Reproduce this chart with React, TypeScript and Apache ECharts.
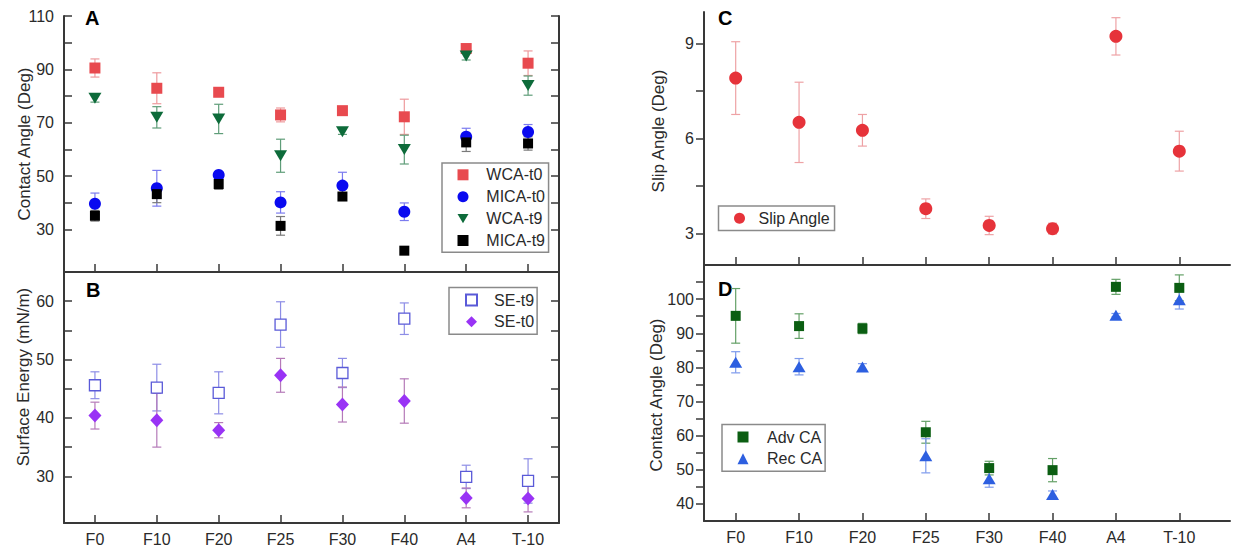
import React, { useEffect, useRef } from "react";
import * as echarts from "echarts";

// ---------------- data ----------------
const categories = ["F0", "F10", "F20", "F25", "F30", "F40", "A4", "T-10"];

// Panel A – contact angles (Deg)
const wcaT0 = [90.5, 82.9, 81.4, 72.9, 74.5, 72.2, 97.8, 92.3];
const wcaT0Err = [3.4, 5.8, 1.5, 2.6, 1.5, 6.6, 1.0, 4.6];
const micaT0 = [39.6, 45.4, 50.4, 40.1, 46.4, 36.6, 64.7, 66.5];
const micaT0Err = [4.0, 6.7, 1.2, 4.0, 5.0, 3.3, 3.2, 2.8];
const wcaT9 = [79.2, 72.0, 71.4, 57.6, 66.6, 59.9, 95.0, 83.9];
const wcaT9Err = [1.5, 4.0, 5.5, 6.2, 1.0, 5.4, 1.5, 3.6];
const micaT9 = [35.1, 43.2, 47.0, 31.3, 42.3, 22.0, 62.6, 62.2];
const micaT9Err = [2.0, 3.2, 2.0, 3.5, 1.0, 0, 3.4, 2.5];

// Panel B – surface energy (mN/m)
const seT9 = [45.6, 45.2, 44.3, 56.0, 47.7, 57.0, 29.9, 29.2];
const seT9Err = [2.3, 4.0, 3.6, 3.9, 2.5, 2.7, 2.0, 3.8];
const seT0 = [40.4, 39.6, 37.9, 47.3, 42.3, 42.9, 26.3, 26.2];
const seT0Err = [2.3, 4.6, 1.3, 2.9, 3.0, 3.8, 1.7, 2.3];

// Panel C – slip angle (Deg)
const slipAngle = [7.91, 6.51, 6.26, 3.78, 3.25, 3.15, 9.23, 5.6];
const slipAngleErr = [1.15, 1.27, 0.5, 0.31, 0.29, 0.17, 0.59, 0.63];

// Panel D – advancing / receding contact angles (Deg)
const advCA = [95.1, 92.1, 91.4, 61.0, 50.5, 49.9, 103.6, 103.3];
const advCAErr = [8.0, 3.6, 1.5, 3.2, 2.0, 3.4, 2.2, 3.8];
const recCA = [81.5, 80.2, 80.1, 54.1, 47.4, 42.8, 95.3, 99.8];
const recCAErr = [3.1, 2.4, 1.0, 5.0, 2.5, 1.0, 0.5, 2.7];

// tick / label values
const aTicks = [30, 40, 50, 60, 70, 80, 90, 100, 110];
const aLabels = [30, 50, 70, 90, 110];
const bTicks = [30, 35, 40, 45, 50, 55, 60];
const bLabels = [30, 40, 50, 60];
const cTicks = [3, 4.5, 6, 7.5, 9];
const cLabels = [3, 6, 9];
const dTicks = [40, 45, 50, 55, 60, 65, 70, 75, 80, 85, 90, 95, 100, 105];
const dLabels = [40, 50, 60, 70, 80, 90, 100];

// ---------------- styling ----------------
const FONT = "'Liberation Sans', Arial, Helvetica, sans-serif";
const AX = "#383838";
const TXT = "#2a2a2a";
const xPos = categories.map((_, i) => i + 1);
const DOWN_TRI = "path://M0,0 L12,0 L6,10 Z";

function pts(vals: number[]) {
  return vals.map((v, i) => [xPos[i], v]);
}
function errPts(vals: number[], errs: number[]) {
  return vals.map((v, i) => [xPos[i], v - errs[i], v + errs[i]]);
}

function errSeries(name: string, axis: number, vals: number[], errs: number[], color: string) {
  return {
    type: "custom",
    name: name + "-err",
    xAxisIndex: axis,
    yAxisIndex: axis,
    z: 1,
    silent: true,
    data: errPts(vals, errs),
    renderItem: (params: any, api: any) => {
      const x = api.value(0);
      const lo = api.value(1);
      const hi = api.value(2);
      if (hi - lo <= 0) return null;
      const p1 = api.coord([x, hi]);
      const p2 = api.coord([x, lo]);
      const w = 4.5;
      const st = { stroke: color, lineWidth: 1.2 };
      return {
        type: "group",
        children: [
          { type: "line", shape: { x1: p1[0], y1: p1[1], x2: p2[0], y2: p2[1] }, style: st },
          { type: "line", shape: { x1: p1[0] - w, y1: p1[1], x2: p1[0] + w, y2: p1[1] }, style: st },
          { type: "line", shape: { x1: p2[0] - w, y1: p2[1], x2: p2[0] + w, y2: p2[1] }, style: st },
        ],
      };
    },
  };
}

function scatter(name: string, axis: number, vals: number[], symbol: string, size: any, itemStyle: any) {
  return {
    type: "scatter",
    name,
    xAxisIndex: axis,
    yAxisIndex: axis,
    z: 3,
    symbol,
    symbolSize: size,
    itemStyle: { opacity: 1, ...itemStyle },
    data: pts(vals),
  };
}

function xAxis(gridIndex: number, max: number, showLabels: boolean) {
  return {
    type: "value",
    gridIndex,
    min: 0.5,
    max,
    position: "bottom",
    axisLine: { show: true, onZero: false, lineStyle: { color: AX, width: 2 } },
    axisTick: { show: true, inside: true, length: 8, customValues: xPos, lineStyle: { color: AX, width: 1.5 } },
    axisLabel: {
      show: showLabels,
      customValues: xPos,
      formatter: (v: number) => categories[Math.round(v) - 1] ?? "",
      margin: 8,
      fontSize: 16,
      color: TXT,
      fontFamily: FONT,
    },
    splitLine: { show: false },
  };
}

function yAxis(
  gridIndex: number,
  min: number,
  max: number,
  ticks: number[],
  labels: number[],
  inside: boolean,
  position: string,
  showLabels: boolean
) {
  return {
    type: "value",
    gridIndex,
    min,
    max,
    position,
    axisLine: { show: true, onZero: false, lineStyle: { color: AX, width: 2 } },
    axisTick: { show: true, inside, length: 8, customValues: ticks, lineStyle: { color: AX, width: 1.5 } },
    axisLabel: {
      show: showLabels,
      customValues: labels,
      margin: 10,
      fontSize: 16,
      color: TXT,
      fontFamily: FONT,
    },
    splitLine: { show: false },
  };
}

function legend(
  left: number,
  top: number,
  padding: number[],
  textPad: number,
  itemGap: number,
  data: string[]
) {
  return {
    orient: "vertical",
    left,
    top,
    padding,
    itemWidth: 11,
    itemHeight: 11,
    itemGap,
    borderColor: "#8a8a8a",
    borderWidth: 1.5,
    borderRadius: 0,
    backgroundColor: "#fff",
    selectedMode: false,
    itemStyle: { opacity: 1 },
    textStyle: { fontSize: 16, color: TXT, fontFamily: FONT, padding: [0, 0, 0, textPad] },
    data,
  };
}

function vText(text: string, x: number, y: number) {
  return {
    type: "text",
    x,
    y,
    rotation: Math.PI / 2,
    style: { text, font: `17px ${FONT}`, fill: TXT, align: "center", verticalAlign: "middle" },
  };
}
function panelLabel(text: string, x: number, y: number) {
  return {
    type: "text",
    x,
    y,
    style: { text, font: `bold 20px ${FONT}`, fill: "#000", align: "left", verticalAlign: "middle" },
  };
}

export default function App() {
  const ref = useRef<HTMLDivElement>(null);
  useEffect(() => {
    if (!ref.current) return;
    const chart = echarts.init(ref.current, null, { renderer: "svg" });
    const option: any = {
      animation: false,
      backgroundColor: "#fff",
      grid: [
        { left: 64, top: 16, width: 495, height: 256, outerBoundsMode: "none" },
        { left: 64, top: 272, width: 495, height: 251, outerBoundsMode: "none" },
        { left: 704, top: 12, width: 526, height: 253, outerBoundsMode: "none" },
        { left: 704, top: 265, width: 526, height: 256, outerBoundsMode: "none" },
      ],
      xAxis: [xAxis(0, 8.5, false), xAxis(1, 8.5, true), xAxis(2, 8.8, false), xAxis(3, 8.8, true)],
      yAxis: [
        yAxis(0, 14, 110, aTicks, aLabels, true, "left", true),
        yAxis(1, 22, 65, bTicks, bLabels, true, "left", true),
        yAxis(2, 2, 10, cTicks, cLabels, false, "left", true),
        yAxis(3, 35, 110, dTicks, dLabels, false, "left", true),
        yAxis(0, 14, 110, aTicks, aLabels, true, "right", false),
        yAxis(1, 22, 65, bTicks, bLabels, true, "right", false),
      ],
      legend: [
        legend(442, 163, [3.8, 3.6, 3.8, 15.5], 12.8, 5.9, ["WCA-t0", "MICA-t0", "WCA-t9", "MICA-t9"]),
        legend(449, 287.5, [4.5, 3, 4.5, 16], 12.1, 5.7, ["SE-t9", "SE-t0"]),
        legend(718.5, 206, [4.2, 4, 4.2, 15.5], 8.5, 6, ["Slip Angle"]),
        legend(722, 424.5, [4.5, 3, 4.5, 15.5], 13.5, 5.7, ["Adv CA", "Rec CA"]),
      ],
      graphic: [
        vText("Contact Angle (Deg)", 24, 144),
        vText("Surface Energy (mN/m)", 23, 377),
        vText("Slip Angle (Deg)", 658, 131),
        vText("Contact Angle (Deg)", 656, 395),
        panelLabel("A", 85, 18),
        panelLabel("B", 86, 290),
        panelLabel("C", 718, 18),
        panelLabel("D", 718, 289),
      ],
      series: [
        errSeries("WCA-t0", 0, wcaT0, wcaT0Err, "#ee9a9d"),
        errSeries("MICA-t0", 0, micaT0, micaT0Err, "#7b7bef"),
        errSeries("WCA-t9", 0, wcaT9, wcaT9Err, "#5f9d79"),
        errSeries("MICA-t9", 0, micaT9, micaT9Err, "#7a7a7a"),
        scatter("WCA-t0", 0, wcaT0, "rect", 11, { color: "#e84a4f" }),
        scatter("MICA-t0", 0, micaT0, "circle", 12, { color: "#0a0af0" }),
        scatter("WCA-t9", 0, wcaT9, DOWN_TRI, [13, 11], { color: "#0d6b3a" }),
        scatter("MICA-t9", 0, micaT9, "rect", 10, { color: "#000" }),

        errSeries("SE-t9", 1, seT9, seT9Err, "#8d8de6"),
        errSeries("SE-t0", 1, seT0, seT0Err, "#b57ab8"),
        scatter("SE-t9", 1, seT9, "rect", 11, { color: "#fff", borderColor: "#5a5ad8", borderWidth: 1.3 }),
        scatter("SE-t0", 1, seT0, "diamond", [13, 14], { color: "#9933f5" }),

        errSeries("Slip Angle", 2, slipAngle, slipAngleErr, "#eea2a5"),
        scatter("Slip Angle", 2, slipAngle, "circle", 13, { color: "#e6333a" }),

        errSeries("Adv CA", 3, advCA, advCAErr, "#64a067"),
        errSeries("Rec CA", 3, recCA, recCAErr, "#7d9aec"),
        scatter("Adv CA", 3, advCA, "rect", 10, { color: "#0b5e12" }),
        scatter("Rec CA", 3, recCA, "triangle", [13, 11], { color: "#2d5fe0" }),
      ],
    };
    chart.setOption(option);
    return () => chart.dispose();
  }, []);
  return (
    <div
      ref={ref}
      style={{ position: "fixed", left: 0, top: 0, width: 1236, height: 554, background: "#fff" }}
    />
  );
}
